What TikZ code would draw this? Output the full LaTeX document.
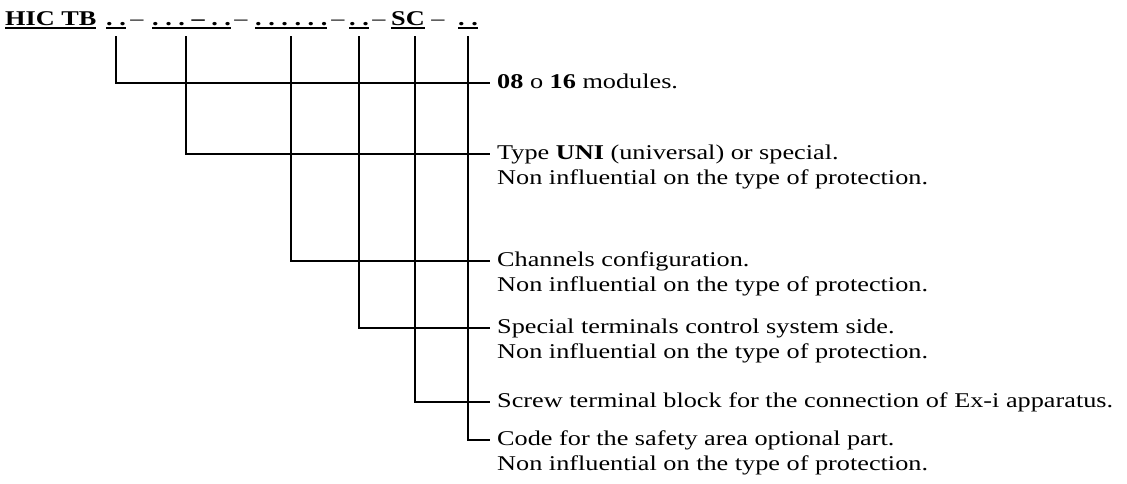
\documentclass[tikz,border=0pt]{standalone}
\usepackage{fontspec}
\setmainfont{Liberation Serif}[FakeStretch=1.25]
\usetikzlibrary{positioning}
\newsavebox\fieldbox
\newcommand\fieldul[1]{\sbox\fieldbox{#1}\rlap{\rule[-4pt]{\wd\fieldbox}{1.8pt}}\usebox\fieldbox}

\begin{document}
\begin{tikzpicture}[
    x=1pt,y=-1pt,
    field/.style={anchor=base west,inner xsep=0pt,inner ysep=7pt,font=\fontsize{21}{25}\selectfont\bfseries\frenchspacing},
    sep/.style={anchor=base,inner sep=0pt,font=\fontsize{21}{25}\selectfont},
    desc/.style={anchor=west,inner xsep=7pt,inner ysep=0pt,text height=15pt,text depth=5pt,font=\fontsize{21}{25}\selectfont},
    lead/.style={line width=2pt}
  ]
  \useasboundingbox (0,0) rectangle (1127,483);

  % code fields
  \node[field] (hic) at (5,25) {\fieldul{HIC TB}};
  \node[field] (g1) at (106,25) {\fieldul{. .}};
  \node[sep] (s1) at (137,25) {--};
  \node[field] (g2) at (152,25) {\fieldul{. . . -- . .}};
  \node[sep] (s2) at (241,25) {--};
  \node[field] (g3) at (255,25) {\fieldul{. . . . . .}};
  \node[sep] (s3) at (338,25) {--};
  \node[field] (g4) at (349,25) {\fieldul{. .}};
  \node[sep] (s4) at (379,25) {--};
  \node[field] (sc) at (391,25) {\fieldul{SC}};
  \node[sep] (s5) at (438,25) {--};
  \node[field] (g6) at (458,25) {\fieldul{. .}};

  % descriptions
  \node[desc] (d1) at (490,83) {\textbf{08} o \textbf{16} modules.};
  \node[desc] (d2) at (490,154) {Type \textbf{UNI} (universal) or special.};
  \node[desc,below=5pt of d2.south west,anchor=north west] (d2b) {Non influential on the type of protection.};
  \node[desc] (d3) at (490,261) {Channels configuration.};
  \node[desc,below=5pt of d3.south west,anchor=north west] (d3b) {Non influential on the type of protection.};
  \node[desc] (d4) at (490,328) {Special terminals control system side.};
  \node[desc,below=5pt of d4.south west,anchor=north west] (d4b) {Non influential on the type of protection.};
  \node[desc] (d5) at (490,402) {Screw terminal block for the connection of Ex-i apparatus.};
  \node[desc] (d6) at (490,440) {Code for the safety area optional part.};
  \node[desc,below=5pt of d6.south west,anchor=north west] (d6b) {Non influential on the type of protection.};

  \draw[lead] (g1.south) |- (d1.west);
  \draw[lead] ([xshift=-6pt]g2.south) |- (d2.west);
  \draw[lead] (g3.south) |- (d3.west);
  \draw[lead] (g4.south) |- (d4.west);
  \draw[lead] ([xshift=7pt]sc.south) |- (d5.west);
  \draw[lead] (g6.south) |- (d6.west);
\end{tikzpicture}
\end{document}
